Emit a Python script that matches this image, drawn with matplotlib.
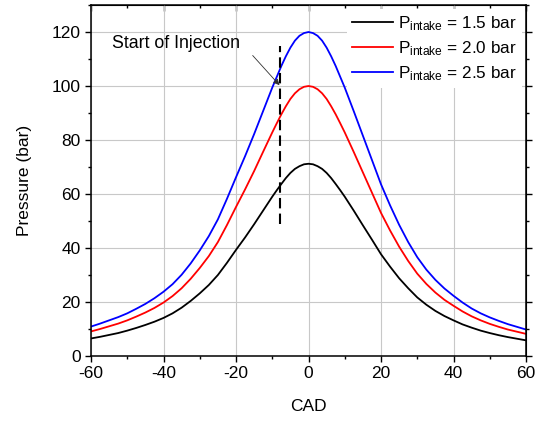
import matplotlib.pyplot as plt
import matplotlib as mpl
from matplotlib.ticker import MultipleLocator

mpl.rcParams['font.family'] = 'Liberation Sans'
mpl.rcParams['mathtext.fontset'] = 'custom'
mpl.rcParams['mathtext.rm'] = 'Liberation Sans'
mpl.rcParams['mathtext.it'] = 'Liberation Sans'
mpl.rcParams['axes.unicode_minus'] = False
mpl.rcParams['font.size'] = 12.5

#%% Data

# crank angle (deg) and in-cylinder pressure (bar) for three intake pressures
cad = [-60, -57.5, -55, -52.5, -50, -47.5, -45, -42.5, -40, -37.5, -35, -32.5, -30,
       -27.5, -25, -22.5, -20, -17.5, -15, -12.5, -10,
       -8.75, -7.5, -6.25, -5, -3.75, -2.5, -1.25, 0, 1.25, 2.5, 3.75, 5, 6.25, 7.5, 8.75,
       10, 12.5, 15, 17.5, 20, 22.5, 25, 27.5, 30, 32.5, 35, 37.5, 40,
       42.5, 45, 47.5, 50, 52.5, 55, 57.5, 60]

p_15 = [6.5, 7.1, 7.8, 8.5, 9.4, 10.4, 11.5, 12.7, 14.1, 15.8, 17.9, 20.4, 23.2,
        26.3, 30.0, 34.5, 39.3, 43.9, 48.8, 53.9, 59.0,
        61.4, 63.7, 65.9, 67.8, 69.3, 70.3, 71.0, 71.2, 71.0, 70.3, 69.3, 67.8, 65.9, 63.7, 61.4,
        59.0, 53.8, 48.4, 43.1, 37.7, 33.1, 28.8, 25.1, 21.7, 19.0, 16.7, 14.8, 13.2,
        11.7, 10.5, 9.4, 8.5, 7.7, 7.0, 6.4, 5.8]
p_20 = [9.1, 10.0, 11.0, 12.0, 13.2, 14.6, 16.1, 17.8, 19.8, 22.2, 25.1, 28.6, 32.6,
        37.0, 42.2, 48.5, 55.2, 61.7, 68.5, 75.7, 82.8,
        86.2, 89.5, 92.5, 95.2, 97.3, 98.8, 99.7, 100.0, 99.7, 98.8, 97.3, 95.2, 92.5, 89.5, 86.2,
        82.8, 75.5, 68.0, 60.5, 53.0, 46.5, 40.5, 35.2, 30.5, 26.7, 23.5, 20.8, 18.6,
        16.5, 14.7, 13.2, 11.9, 10.8, 9.8, 9.0, 8.2]
p_25 = [10.9, 12.0, 13.2, 14.4, 15.8, 17.5, 19.3, 21.4, 23.8, 26.6, 30.1, 34.3, 39.1,
        44.4, 50.6, 58.2, 66.2, 74.0, 82.2, 90.8, 99.4,
        103.4, 107.4, 111.0, 114.2, 116.8, 118.6, 119.6, 120.0, 119.6, 118.6, 116.8, 114.2, 111.0, 107.4, 103.4,
        99.4, 90.6, 81.6, 72.6, 63.6, 55.8, 48.6, 42.2, 36.6, 32.0, 28.2, 25.0, 22.3,
        19.8, 17.6, 15.8, 14.3, 13.0, 11.8, 10.8, 9.8]

labels = [r'P$_{\mathrm{intake}}$ = 1.5 bar',
          r'P$_{\mathrm{intake}}$ = 2.0 bar',
          r'P$_{\mathrm{intake}}$ = 2.5 bar']
colors = ['black', 'red', 'blue']

# start of injection
soi_cad = -8
soi_range = [49, 115]

#%% Plot

fig = plt.figure(figsize=(5.43, 4.21), dpi=100)
ax = fig.add_axes([0.1676, 0.1544, 0.8011, 0.8337])

for p, lab, c in zip([p_15, p_20, p_25], labels, colors):
    ax.plot(cad, p, color=c, lw=1.3, label=lab)

ax.plot([soi_cad, soi_cad], soi_range, color='black', lw=1.5, dashes=(5, 2.5))
ax.text(-36.5, 115.8, 'Start of Injection', ha='center', va='center', fontsize=12.8)
ax.annotate('', xy=(soi_cad, 100.3), xytext=(-15.4, 111.3),
            arrowprops=dict(arrowstyle='-|>', color='#303030', lw=0.6,
                            mutation_scale=9, shrinkA=0, shrinkB=0))

ax.set_xlim(-60, 60)
ax.set_ylim(0, 130)
ax.xaxis.set_major_locator(MultipleLocator(20))
ax.xaxis.set_minor_locator(MultipleLocator(10))
ax.yaxis.set_major_locator(MultipleLocator(20))
ax.yaxis.set_minor_locator(MultipleLocator(10))
ax.grid(True, which='major', color='#c8c8c8', lw=0.8)
ax.set_axisbelow(True)

ax.tick_params(which='both', direction='out', width=1.0, pad=3)
ax.tick_params(which='major', length=4.5)
ax.tick_params(which='minor', length=2.5)
for s in ax.spines.values():
    s.set_linewidth(1.1)

# mirrored ticks: inward on top, outward on the right
top = ax.secondary_xaxis('top')
top.xaxis.set_major_locator(MultipleLocator(20))
top.xaxis.set_minor_locator(MultipleLocator(10))
top.tick_params(which='both', direction='in', labeltop=False, width=1.0)
top.tick_params(which='major', length=4.5)
top.tick_params(which='minor', length=2.5)
right = ax.secondary_yaxis('right')
right.yaxis.set_major_locator(MultipleLocator(20))
right.yaxis.set_minor_locator(MultipleLocator(10))
right.tick_params(which='both', direction='out', labelright=False, width=1.0)
right.tick_params(which='major', length=4.5)
right.tick_params(which='minor', length=2.5)

ax.set_xlabel('CAD', labelpad=13)
ax.set_ylabel('Pressure (bar)', labelpad=14)

leg = ax.legend(loc='upper right', bbox_to_anchor=(1.0, 1.0), frameon=True,
                fancybox=False, framealpha=1, edgecolor='none', fontsize=12.3,
                handlelength=2.4, handletextpad=0.3, labelspacing=0.36,
                borderpad=0.3, borderaxespad=0.25)

fig.savefig('out.png', dpi=100)
